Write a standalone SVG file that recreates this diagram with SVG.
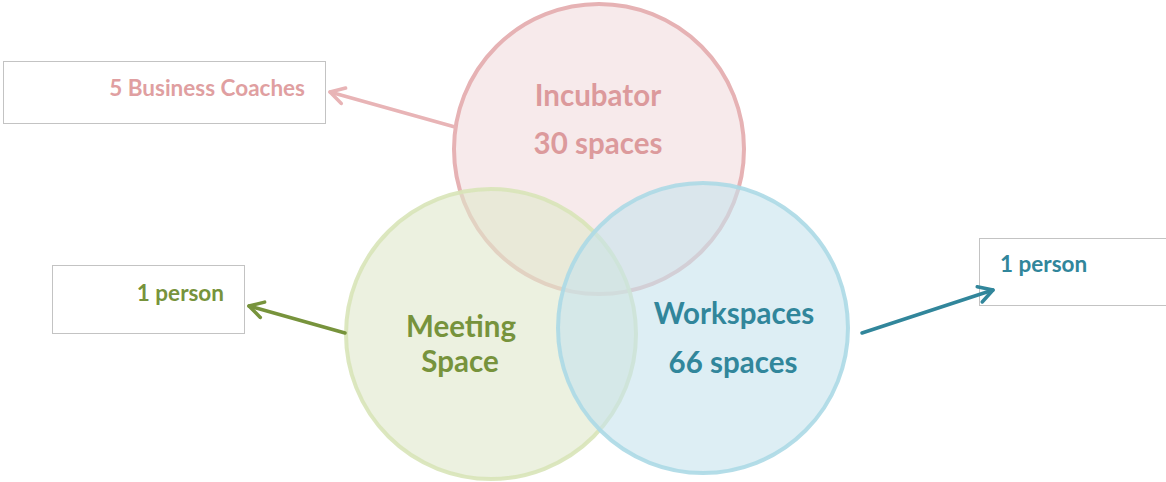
<svg xmlns="http://www.w3.org/2000/svg" width="1166" height="482" viewBox="0 0 1166 482">
<style>
text{font-family:Lato,"Open Sans","Liberation Sans",sans-serif;font-weight:bold}
.big{font-size:29.5px;text-anchor:middle}
.lbl{font-size:22.5px}
.box{fill:#fff;stroke:#c3c3c3;stroke-width:1}
.circ{stroke-width:4}
.conn{fill:none;stroke-width:3.5;stroke-linecap:round}
</style>
<defs>
<marker id="ah-pink" markerUnits="userSpaceOnUse" viewBox="0 0 20 20" refX="18" refY="10" markerWidth="20" markerHeight="20" orient="auto">
<path d="M4,2 L18,10 L4,18" fill="none" stroke="#e8b4b6" stroke-width="3.5" stroke-linecap="round" stroke-linejoin="round"/>
</marker>
<marker id="ah-green" markerUnits="userSpaceOnUse" viewBox="0 0 20 20" refX="18" refY="10" markerWidth="20" markerHeight="20" orient="auto">
<path d="M4,2 L18,10 L4,18" fill="none" stroke="#77933c" stroke-width="3.5" stroke-linecap="round" stroke-linejoin="round"/>
</marker>
<marker id="ah-blue" markerUnits="userSpaceOnUse" viewBox="0 0 20 20" refX="18" refY="10" markerWidth="20" markerHeight="20" orient="auto">
<path d="M4,2 L18,10 L4,18" fill="none" stroke="#31869b" stroke-width="3.5" stroke-linecap="round" stroke-linejoin="round"/>
</marker>
</defs>
<rect width="1166" height="482" fill="#fff"/>
<g id="box-coaches">
<rect class="box" x="3.5" y="61.5" width="322" height="62"/>
<text class="lbl" x="305" y="96" text-anchor="end" fill="#e09fa1">5 Business Coaches</text>
</g>
<g id="box-meeting-person">
<rect class="box" x="52.5" y="265.5" width="192" height="68"/>
<text class="lbl" x="224" y="301" text-anchor="end" fill="#77933c">1 person</text>
</g>
<g id="box-work-person">
<rect class="box" x="979.5" y="238.5" width="190" height="67"/>
<text class="lbl" x="1000" y="272" fill="#31869b">1 person</text>
</g>
<g id="incubator">
<circle class="circ" cx="599" cy="149" r="145" fill="#f2dcdd" fill-opacity="0.6" stroke="#e6b2b4"/>
</g>
<g id="meeting-space">
<circle class="circ" cx="491" cy="334" r="145" fill="#dfe8cc" fill-opacity="0.6" stroke="#d8e4b8" stroke-opacity="0.9"/>
</g>
<g id="workspaces">
<circle class="circ" cx="703" cy="328" r="145" fill="#c6e3ec" fill-opacity="0.6" stroke="#acd9e5" stroke-opacity="0.9"/>
</g>
<g id="labels">
<text class="big" x="598" y="106" fill="#dc9a9c">Incubator</text>
<text class="big" x="598" y="154" fill="#dc9a9c">30 spaces</text>
<text class="big" x="461" y="337" fill="#77933c">Meeting</text>
<text class="big" x="460" y="372" fill="#77933c">Space</text>
<text class="big" x="734" y="324" fill="#31869b">Workspaces</text>
<text class="big" x="733" y="373" fill="#31869b">66 spaces</text>
</g>
<g id="connectors">
<line class="conn" x1="455" y1="127" x2="330" y2="92" stroke="#e8b4b6" marker-end="url(#ah-pink)"/>
<line class="conn" x1="345" y1="333" x2="249" y2="306" stroke="#77933c" marker-end="url(#ah-green)"/>
<line class="conn" x1="862" y1="333" x2="993" y2="290" stroke="#31869b" marker-end="url(#ah-blue)"/>
</g>
</svg>
